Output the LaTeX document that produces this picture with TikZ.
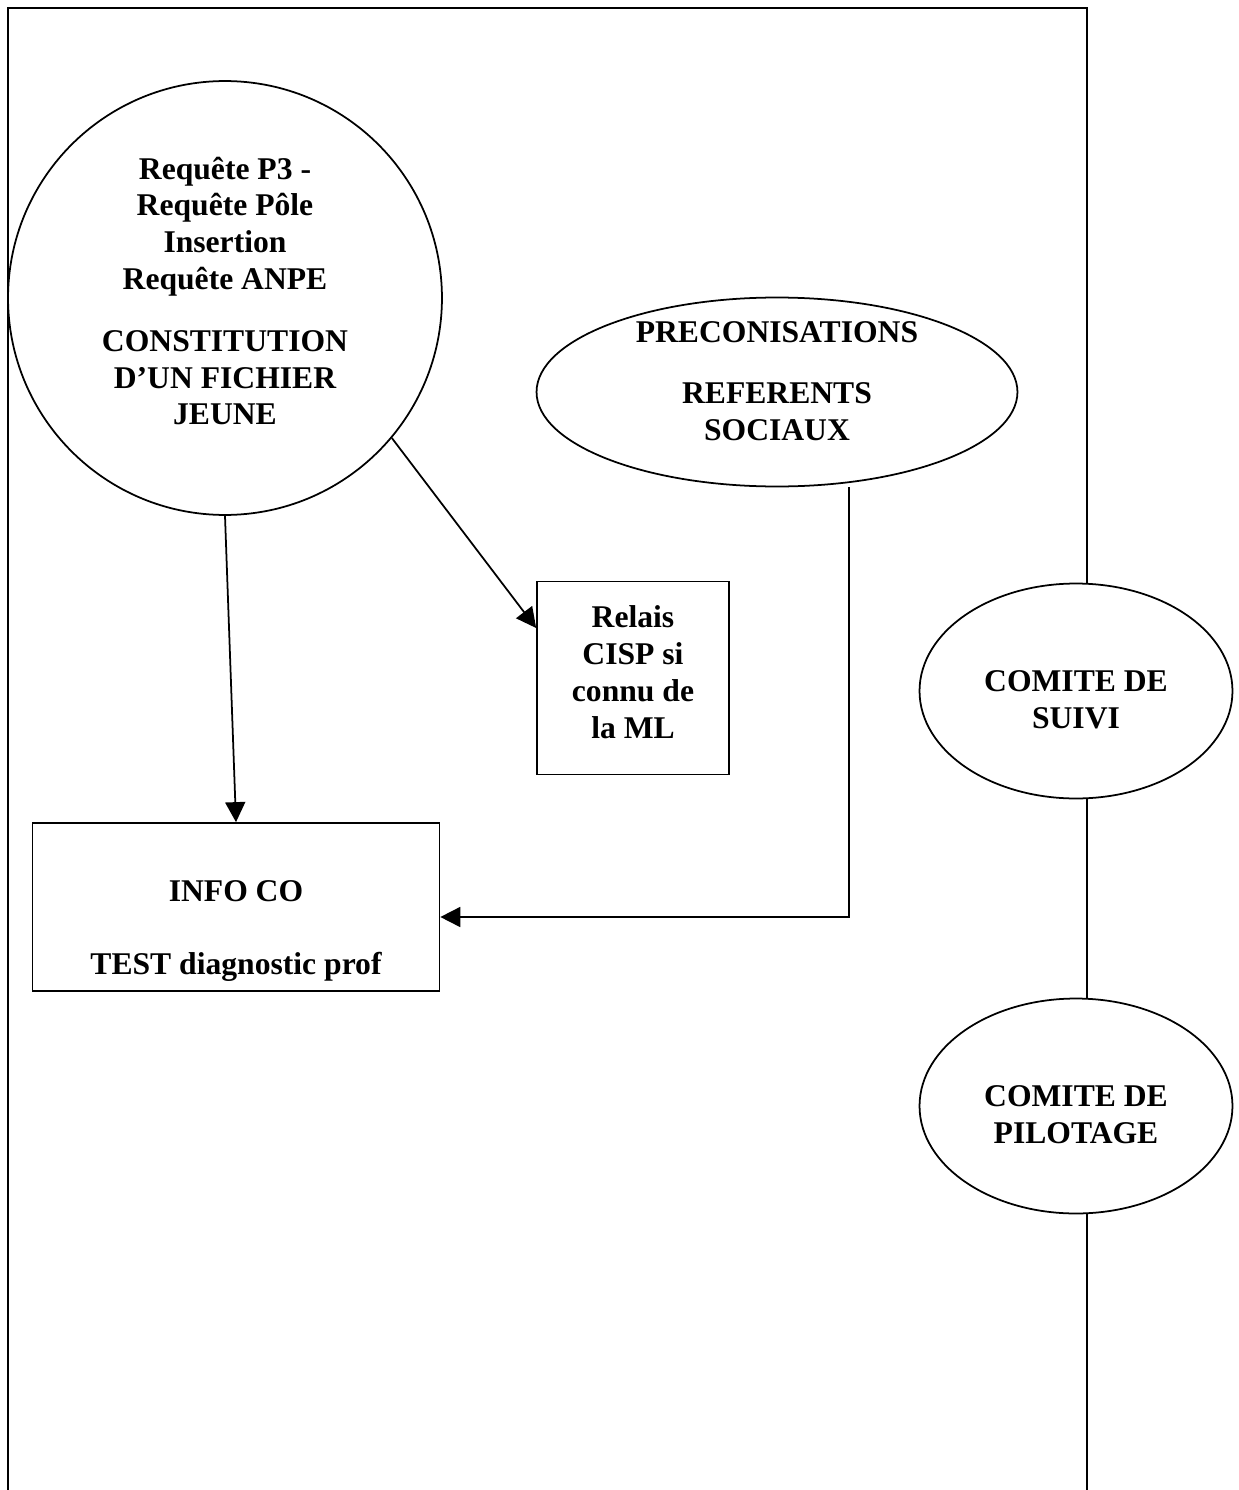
\documentclass[tikz,border=0pt]{standalone}
\usepackage{fontspec}
\setmainfont{Liberation Serif}
\usepackage{tikz}
\usetikzlibrary{shapes.geometric}
\usetikzlibrary{arrows.meta}
\tikzset{
  Trait/.style={line width=1pt}, % Linien
  Fleche/.style={Trait,->}, % Pfeile
  Bulle/.style={draw,Trait,circle,inner sep=0pt},
  Oval/.style={draw,Trait,ellipse,inner sep=0pt},
  Cadre/.style={draw,Trait,rectangle,inner sep=0pt},
  Texte/.style={align=center,inner sep=0pt} % Beschriftung
}

\begin{document}
\begin{tikzpicture}[
x=0.02cm, y=-0.02cm,
font=\fontsize{18}{21}\selectfont\bfseries,
>={Triangle[length=4mm,width=4mm]} % Pfeilspitzen
]
\useasboundingbox (0,0) rectangle (1238,1490);

%Formen
\node[Bulle, minimum size=8.68cm] (fichier) at (225,298) {};
\node[Oval, minimum width=9.62cm, minimum height=3.78cm] (preco) at (777,392) {};
\node[Cadre, minimum width=3.84cm, minimum height=3.86cm] (relais) at (633,678) {};
\node[Cadre, minimum width=8.14cm, minimum height=3.36cm] (info) at (236,907) {};
\node[Oval, minimum width=6.26cm, minimum height=4.3cm] (suivi) at (1076,691) {};
\node[Oval, minimum width=6.26cm, minimum height=4.3cm] (pilot) at (1076,1106) {};

%Texte
\node[Texte] (fichiertxt) at ([yshift=0.14cm]fichier.center)
  {Requête P3 -\\Requête Pôle\\Insertion\\Requête ANPE\\[14pt]CONSTITUTION\\D’UN FICHIER\\JEUNE};
\node[Texte] (precotxt) at ([yshift=0.22cm]preco.center)
  {PRECONISATIONS\\[14pt]REFERENTS\\SOCIAUX};
\node[Texte] (relaistxt) at ([yshift=0.12cm]relais.center)
  {Relais\\CISP si\\connu de\\la ML};
\node[Texte] (infotxt) at ([yshift=-0.48cm]info.center)
  {INFO CO\\[20pt]TEST diagnostic prof};
\node[Texte] (suivitxt) at ([yshift=-0.18cm]suivi.center) {COMITE DE\\SUIVI};
\node[Texte] (pilottxt) at ([yshift=-0.18cm]pilot.center) {COMITE DE\\PILOTAGE};

%Rahmen
\coordinate (ol) at (8,8);
\coordinate (ul) at (8,1490);
\coordinate (or) at (1087,8);
\coordinate (ur) at (1087,1490);
\draw[Trait] (ul) -- (ol) -- (or) -- (or |- suivi.north);
\draw[Trait] (suivi.south -| or) -- (pilot.north -| or);
\draw[Trait] (pilot.south -| or) -- (ur);

%Pfeile
\coordinate (knick) at (849,917);
\draw[Fleche] (fichier.south) -- (info.north);
\draw[Fleche] (fichier.-40) -- ([yshift=1cm]relais.west);
\draw[Fleche] (knick |- preco.south) -- (knick) -- (knick -| info.east);

\end{tikzpicture}
\end{document}
